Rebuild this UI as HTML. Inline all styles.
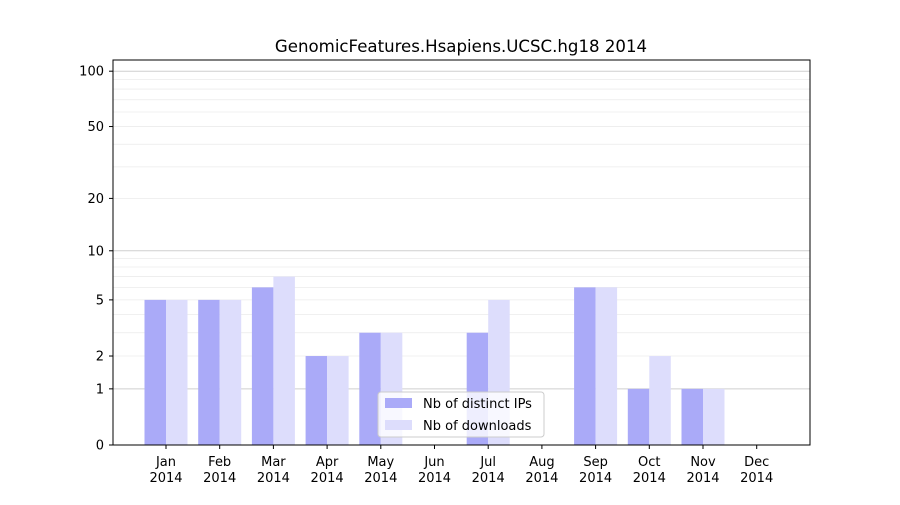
<!DOCTYPE html>
<html><head><meta charset="utf-8"><style>
html,body{margin:0;padding:0;background:#fff;}
svg text{font-family:"DejaVu Sans","Liberation Sans",sans-serif;font-size:13px;fill:#000;}
</style></head><body>
<svg width="900" height="500" viewBox="0 0 900 500" xmlns="http://www.w3.org/2000/svg">
<rect width="900" height="500" fill="#fff"/>
<g id="grid"></g>
<g id="bars"></g>
<rect x="113" y="60" width="697" height="385" fill="none" stroke="#000" stroke-width="1"/>
<g id="ticks"></g>
<text x="461" y="52" text-anchor="middle" style="font-size:16.6px">GenomicFeatures.Hsapiens.UCSC.hg18 2014</text>
<g>
<rect x="378" y="392" width="166" height="45" rx="3" fill="#fff" fill-opacity="0.8" stroke="#ccc"/>
<rect x="385" y="398" width="27" height="10" fill="#aaaaf8"/>
<text x="423" y="408">Nb of distinct IPs</text>
<rect x="385" y="420" width="27" height="10" fill="#ddddfc"/>
<text x="423" y="430">Nb of downloads</text>
</g>
<script>
var ns="http://www.w3.org/2000/svg";
function Y(v){return 445-186.5*Math.log10(1+v);}
function el(t,a,p,txt){var e=document.createElementNS(ns,t);for(var k in a)e.setAttribute(k,a[k]);if(txt!==undefined)e.textContent=txt;document.getElementById(p).appendChild(e);return e;}
var minors=[2,3,4,5,6,7,8,9,20,30,40,50,60,70,80,90];
minors.forEach(function(v){var y=Y(v);el("line",{x1:113,x2:810,y1:y,y2:y,stroke:"#ebebeb","stroke-width":0.8},"grid");});
[1,10,100].forEach(function(v){var y=Y(v);el("line",{x1:113,x2:810,y1:y,y2:y,stroke:"#cfcfcf","stroke-width":1},"grid");});
var months=["Jan","Feb","Mar","Apr","May","Jun","Jul","Aug","Sep","Oct","Nov","Dec"];
var ips=[5,5,6,2,3,0,3,0,6,1,1,0], dl=[5,5,7,2,3,0,5,0,6,2,1,0];
for(var i=0;i<12;i++){
 var c=166+i*53.7;
 if(ips[i]>0){var y=Y(ips[i]);el("rect",{x:c-21.5,y:y,width:21.5,height:445-y,fill:"#aaaaf8"},"bars");}
 if(dl[i]>0){var y2=Y(dl[i]);el("rect",{x:c,y:y2,width:21.5,height:445-y2,fill:"#ddddfc"},"bars");}
 el("line",{x1:c,x2:c,y1:445,y2:449,stroke:"#000"},"ticks");
 el("text",{x:c,y:466,"text-anchor":"middle"},"ticks",months[i]);
 el("text",{x:c,y:482,"text-anchor":"middle"},"ticks","2014");
}
[0,1,2,5,10,20,50,100].forEach(function(v){var y=Y(v);
 el("line",{x1:109,x2:113,y1:y,y2:y,stroke:"#000"},"ticks");
 el("text",{x:104,y:y+4.5,"text-anchor":"end"},"ticks",String(v));});
</script>
</svg>
</body></html>
